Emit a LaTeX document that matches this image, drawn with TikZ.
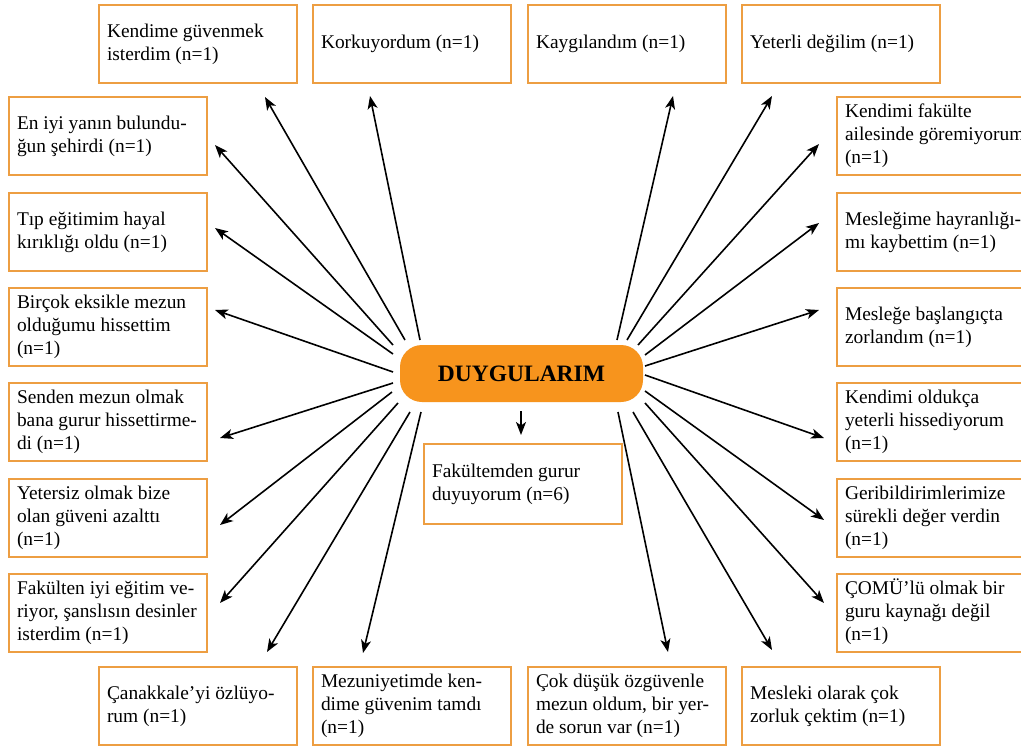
\documentclass[tikz,border=0pt]{standalone}
\usepackage{fontspec}
\setmainfont{Liberation Serif}
\usetikzlibrary{arrows.meta}
\definecolor{boxorange}{RGB}{237,158,66}
\definecolor{cfill}{RGB}{247,148,29}
\newcommand{\bxt}[1]{\makebox[182pt][l]{\begin{tabular}{@{}l@{}}#1\end{tabular}}}
\begin{document}
\begin{tikzpicture}[x=1pt,y=-1pt,
  box/.style={draw=boxorange, line width=2pt, minimum width=198pt, minimum height=78pt,
    inner xsep=8pt, inner ysep=0pt, anchor=north west, font=\fontsize{19.4}{23}\selectfont},
  hub/.style={fill=cfill, rounded corners=22pt, minimum width=243pt, minimum height=57pt,
    inner sep=0pt, font=\fontsize{23.5}{28}\selectfont\bfseries},
  arr/.style={line width=1.6pt, -{Stealth[length=13pt,width=10pt,inset=3.5pt]}}]
\clip (0,0) rectangle (1021,747);
\fill[white] (0,0) rectangle (1021,747);
% top row
\node[box] (B1) at (98,4) {\bxt{Kendime güvenmek\\isterdim (n=1)}};
\node[box] (B2) at (312,4) {\bxt{Korkuyordum (n=1)}};
\node[box] (B3) at (527,4) {\bxt{Kaygılandım (n=1)}};
\node[box] (B4) at (741,4) {\bxt{Yeterli değilim (n=1)}};
% left column
\node[box] (L1) at (8,96) {\bxt{En iyi yanın bulundu-\\ğun şehirdi (n=1)}};
\node[box] (L2) at (8,192) {\bxt{Tıp eğitimim hayal\\kırıklığı oldu (n=1)}};
\node[box] (L3) at (8,287) {\bxt{Birçok eksikle mezun\\olduğumu hissettim\\(n=1)}};
\node[box] (L4) at (8,382) {\bxt{Senden mezun olmak\\bana gurur hissettirme-\\di (n=1)}};
\node[box] (L5) at (8,478) {\bxt{Yetersiz olmak bize\\olan güveni azalttı\\(n=1)}};
\node[box] (L6) at (8,573) {\bxt{Fakülten iyi eğitim ve-\\riyor, şanslısın desinler\\isterdim (n=1)}};
% right column
\node[box] (R1) at (836,96) {\bxt{Kendimi fakülte\\ailesinde göremiyorum\\(n=1)}};
\node[box] (R2) at (836,192) {\bxt{Mesleğime hayranlığı-\\mı kaybettim (n=1)}};
\node[box] (R3) at (836,287) {\bxt{Mesleğe başlangıçta\\zorlandım (n=1)}};
\node[box] (R4) at (836,382) {\bxt{Kendimi oldukça\\yeterli hissediyorum\\(n=1)}};
\node[box] (R5) at (836,478) {\bxt{Geribildirimlerimize\\sürekli değer verdin\\(n=1)}};
\node[box] (R6) at (836,573) {\bxt{ÇOMÜ’lü olmak bir\\guru kaynağı değil\\(n=1)}};
% bottom row
\node[box] (D1) at (98,666) {\bxt{Çanakkale’yi özlüyo-\\rum (n=1)}};
\node[box] (D2) at (312,666) {\bxt{Mezuniyetimde ken-\\dime güvenim tamdı\\(n=1)}};
\node[box] (D3) at (527,666) {\bxt{Çok düşük özgüvenle\\mezun oldum, bir yer-\\de sorun var (n=1)}};
\node[box] (D4) at (741,666) {\bxt{Mesleki olarak çok\\zorluk çektim (n=1)}};
% middle
\node[box, minimum height=80pt] (M) at (423,443) {\bxt{Fakültemden gurur\\duyuyorum (n=6)}};
\node[hub] (C) at (521.5,373.5) {DUYGULARIM};
% arrows
\foreach \n/\sx/\sy/\tx/\ty in {
  B1/405/340/265/97, B2/420/340/370/96, B3/617/340/673/96, B4/627/340/772/96,
  L1/393/345/215/145, L2/393/354/215/228, L3/393/372/215/310,
  L4/393/383/220/438, L5/392/392/220/525, L6/398/403/220/603,
  D1/410/412/267/652, D2/421/412/363/653, D3/618/412/668/652, D4/633/412/772/650,
  R1/638/345/819/144, R2/645/355/819/223, R3/645/366/819/310,
  R4/645/375/824/438, R5/645/391/824/520, R6/645/403/824/603,
  M/521/411/521/435}{
  \coordinate (s\n) at (\sx,\sy);
  \coordinate (t\n) at (\tx,\ty);
  \draw[arr] (s\n) -- (t\n);
}
\end{tikzpicture}
\end{document}
